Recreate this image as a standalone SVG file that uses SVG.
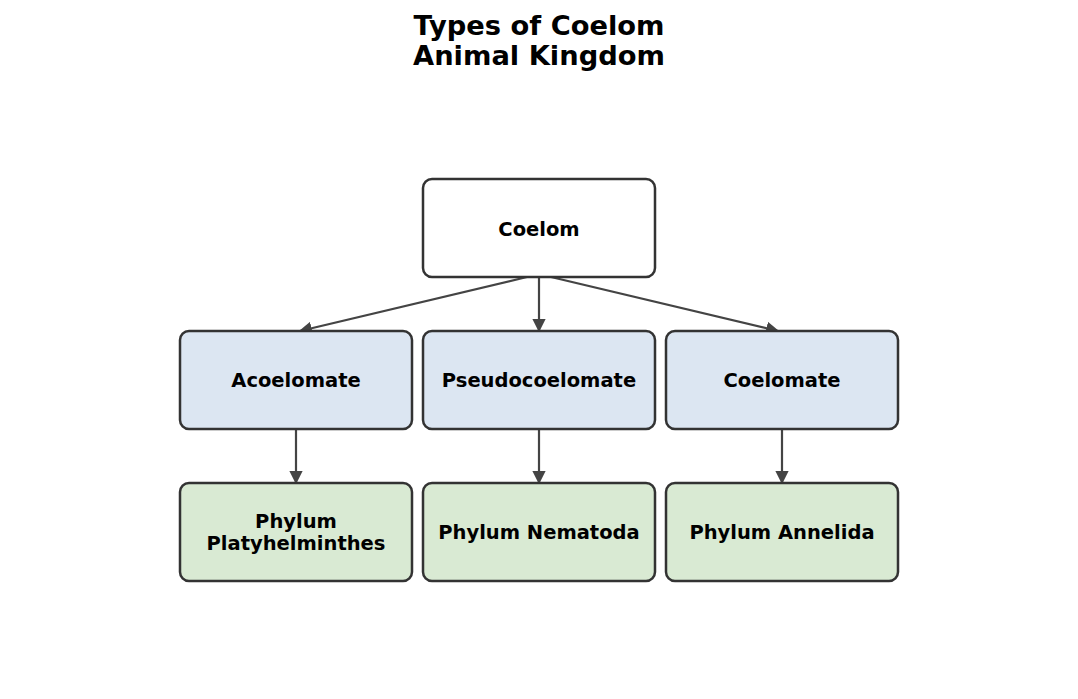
<svg xmlns="http://www.w3.org/2000/svg" width="1078" height="699" viewBox="0 0 1078 699">
<style>
.t{font-family:"DejaVu Sans","Liberation Sans",sans-serif;font-weight:bold;fill:#000;text-anchor:middle}
.title{font-size:27.3px}
.lbl{font-size:19.5px}
.box{stroke:#333;stroke-width:2.5}
.root{fill:#fff}
.blue{fill:#dce6f2}
.green{fill:#d9ead3}
.e{stroke:#444;stroke-width:2.2;fill:none;marker-end:url(#ah)}
</style>
<defs>
<marker id="ah" viewBox="0 0 10 10" refX="9" refY="5" markerWidth="6" markerHeight="6" markerUnits="strokeWidth" orient="auto">
<path d="M0,0 L10,5 L0,10 z" fill="#444"/>
</marker>
</defs>
<rect width="1078" height="699" fill="#fff"/>
<g id="title">
<text class="t title" x="539" y="35">Types of Coelom</text>
<text class="t title" x="539" y="65">Animal Kingdom</text>
</g>
<g id="edges">
<path class="e" d="M527,277 L300,331"/>
<path class="e" d="M539,277 L539,331"/>
<path class="e" d="M551,277 L778,331"/>
<path class="e" d="M296,429 L296,483"/>
<path class="e" d="M539,429 L539,483"/>
<path class="e" d="M782,429 L782,483"/>
</g>
<g id="coelom">
<rect class="box root" x="423" y="179" width="232" height="98" rx="9"/>
<text class="t lbl" x="539" y="236">Coelom</text>
</g>
<g id="acoelomate">
<rect class="box blue" x="180" y="331" width="232" height="98" rx="9"/>
<text class="t lbl" x="296" y="387">Acoelomate</text>
</g>
<g id="pseudocoelomate">
<rect class="box blue" x="423" y="331" width="232" height="98" rx="9"/>
<text class="t lbl" x="539" y="387">Pseudocoelomate</text>
</g>
<g id="coelomate">
<rect class="box blue" x="666" y="331" width="232" height="98" rx="9"/>
<text class="t lbl" x="782" y="387">Coelomate</text>
</g>
<g id="platyhelminthes">
<rect class="box green" x="180" y="483" width="232" height="98" rx="9"/>
<text class="t lbl" x="296" y="528">Phylum</text>
<text class="t lbl" x="296" y="550">Platyhelminthes</text>
</g>
<g id="nematoda">
<rect class="box green" x="423" y="483" width="232" height="98" rx="9"/>
<text class="t lbl" x="539" y="539">Phylum Nematoda</text>
</g>
<g id="annelida">
<rect class="box green" x="666" y="483" width="232" height="98" rx="9"/>
<text class="t lbl" x="782" y="539">Phylum Annelida</text>
</g>
</svg>
